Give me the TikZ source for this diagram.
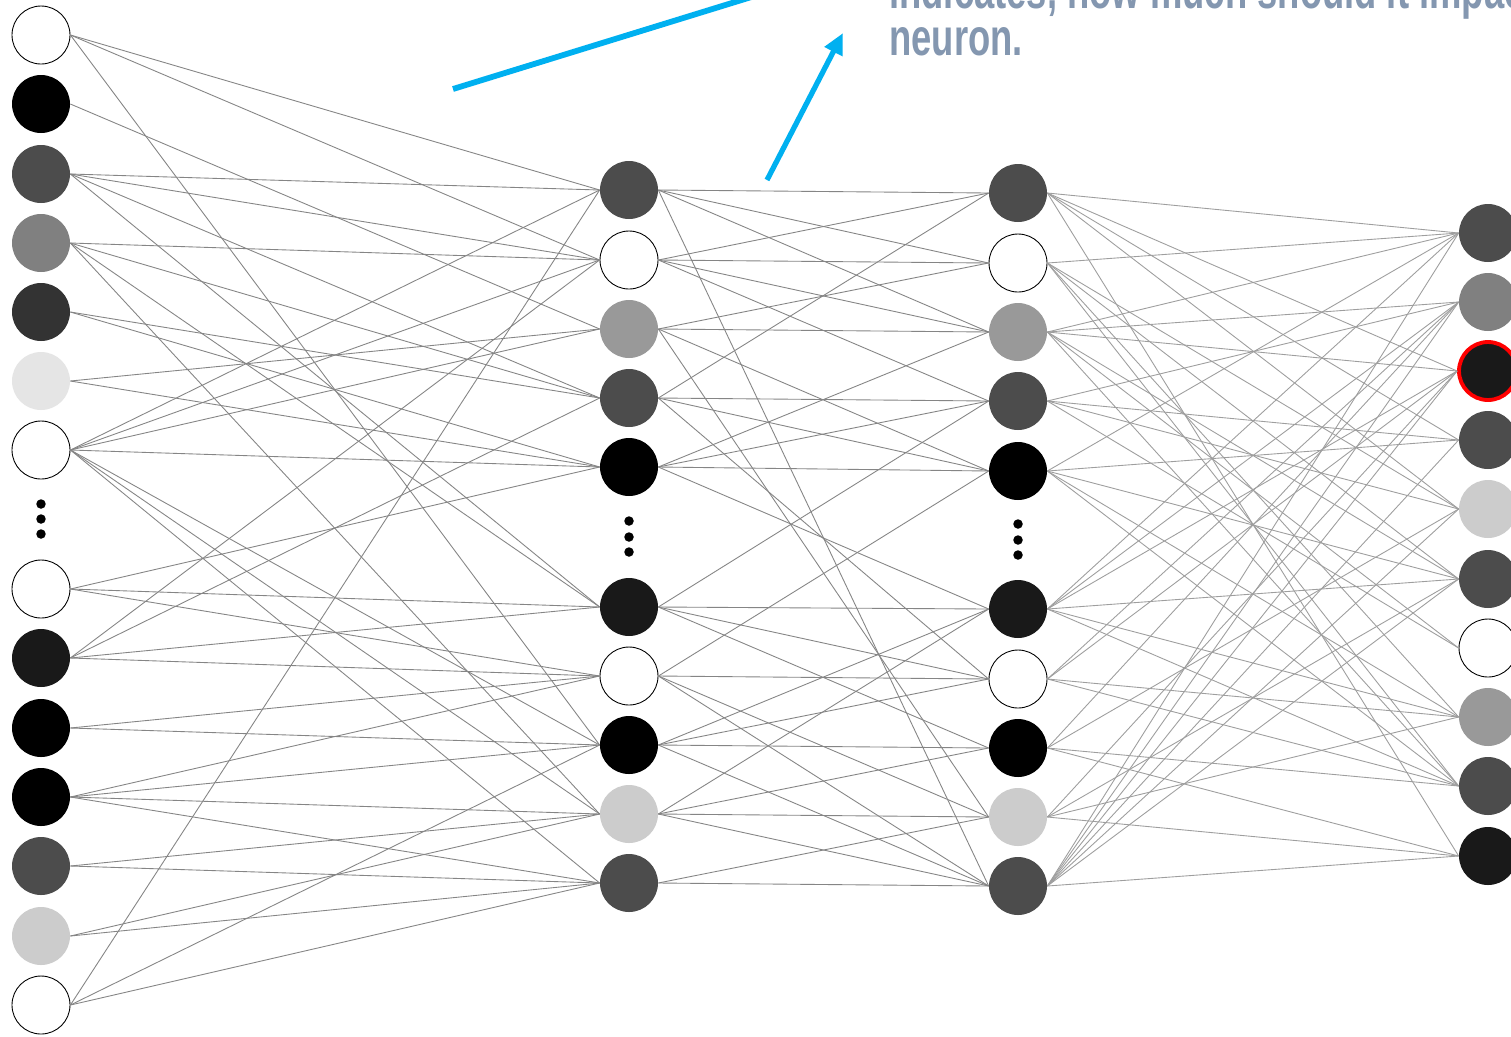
\documentclass[tikz,border=0pt]{standalone}
\usepackage{fontspec}
\usetikzlibrary{arrows.meta}
\newfontfamily\notefont[FakeStretch=0.7]{Liberation Sans}
\definecolor{notegray}{RGB}{132,151,176}
\definecolor{callout}{RGB}{0,176,240}
\tikzset{
  neuron/.style={circle, minimum size=1.16cm, inner sep=0pt},
  blank/.style={neuron, draw=black, line width=0.5pt, fill=white},
  dot/.style={circle, fill=black, minimum size=0.19cm, inner sep=0pt},
  wire/.style={draw=black!48, line width=0.5pt},
  litewire/.style={draw=black!38, line width=0.5pt},
  pointer/.style={draw=callout, line width=3pt},
  note/.style={text=notegray, inner sep=0pt, anchor=base west, font=\notefont\bfseries\fontsize{29.6pt}{30pt}\selectfont}
}
\begin{document}
\begin{tikzpicture}[x=0.02cm, y=-0.02cm]
    \useasboundingbox (0,0) rectangle (1511,1036);
    \fill[white] (0,0) rectangle (1511,1036);
    \clip (0,0) rectangle (1511,1036);

    % Input layer
    \node[blank] (in1) at (41,35) {};
    \node[neuron, fill=black] (in2) at (41,104) {};
    \node[neuron, fill=black!70] (in3) at (41,174) {};
    \node[neuron, fill=black!50] (in4) at (41,243) {};
    \node[neuron, fill=black!80] (in5) at (41,312) {};
    \node[neuron, fill=black!10] (in6) at (41,381) {};
    \node[blank] (in7) at (41,450) {};
    \node[dot] (ind1) at (41,504) {};
    \node[dot] (ind2) at (41,519) {};
    \node[dot] (ind3) at (41,534) {};
    \node[blank] (in8) at (41,589) {};
    \node[neuron, fill=black!90] (in9) at (41,658) {};
    \node[neuron, fill=black] (in10) at (41,728) {};
    \node[neuron, fill=black] (in11) at (41,797) {};
    \node[neuron, fill=black!70] (in12) at (41,866) {};
    \node[neuron, fill=black!20] (in13) at (41,936) {};
    \node[blank] (in14) at (41,1005) {};

    % First hidden layer
    \node[neuron, fill=black!70] (ha1) at (629,190) {};
    \node[blank] (ha2) at (629,260) {};
    \node[neuron, fill=black!40] (ha3) at (629,329) {};
    \node[neuron, fill=black!70] (ha4) at (629,398) {};
    \node[neuron, fill=black] (ha5) at (629,467) {};
    \node[dot] (had1) at (629,521) {};
    \node[dot] (had2) at (629,537) {};
    \node[dot] (had3) at (629,552) {};
    \node[neuron, fill=black!90] (ha6) at (629,607) {};
    \node[blank] (ha7) at (629,676) {};
    \node[neuron, fill=black] (ha8) at (629,745) {};
    \node[neuron, fill=black!20] (ha9) at (629,814) {};
    \node[neuron, fill=black!70] (ha10) at (629,883) {};

    % Second hidden layer
    \node[neuron, fill=black!70] (hb1) at (1018,193) {};
    \node[blank] (hb2) at (1018,263) {};
    \node[neuron, fill=black!40] (hb3) at (1018,332) {};
    \node[neuron, fill=black!70] (hb4) at (1018,401) {};
    \node[neuron, fill=black] (hb5) at (1018,471) {};
    \node[dot] (hbd1) at (1018,524) {};
    \node[dot] (hbd2) at (1018,540) {};
    \node[dot] (hbd3) at (1018,555) {};
    \node[neuron, fill=black!90] (hb6) at (1018,609) {};
    \node[blank] (hb7) at (1018,679) {};
    \node[neuron, fill=black] (hb8) at (1018,748) {};
    \node[neuron, fill=black!20] (hb9) at (1018,817) {};
    \node[neuron, fill=black!70] (hb10) at (1018,886) {};

    % Output layer
    \node[neuron, fill=black!70] (out1) at (1488,233) {};
    \node[neuron, fill=black!50] (out2) at (1488,302) {};
    \node[neuron, fill=black!90, draw=red, line width=2.2pt] (out3) at (1488,371) {};
    \node[neuron, fill=black!70] (out4) at (1488,440) {};
    \node[neuron, fill=black!20] (out5) at (1488,509) {};
    \node[neuron, fill=black!70] (out6) at (1488,579) {};
    \node[blank] (out7) at (1488,648) {};
    \node[neuron, fill=black!40] (out8) at (1488,717) {};
    \node[neuron, fill=black!70] (out9) at (1488,786) {};
    \node[neuron, fill=black!90] (out10) at (1488,856) {};

    % Input to first hidden
    \foreach \t in {1,2,8} \draw[wire] (in1.east) -- (ha\t.west);
    \foreach \t in {3} \draw[wire] (in2.east) -- (ha\t.west);
    \foreach \t in {1,2,4,6} \draw[wire] (in3.east) -- (ha\t.west);
    \foreach \t in {2,4,6,9} \draw[wire] (in4.east) -- (ha\t.west);
    \foreach \t in {4,5} \draw[wire] (in5.east) -- (ha\t.west);
    \foreach \t in {3,5} \draw[wire] (in6.east) -- (ha\t.west);
    \foreach \t in {1,2,3,5,8,9,10} \draw[wire] (in7.east) -- (ha\t.west);
    \foreach \t in {5,6,7} \draw[wire] (in8.east) -- (ha\t.west);
    \foreach \t in {2,4,6,7} \draw[wire] (in9.east) -- (ha\t.west);
    \foreach \t in {7,8} \draw[wire] (in10.east) -- (ha\t.west);
    \foreach \t in {7,8,9,10} \draw[wire] (in11.east) -- (ha\t.west);
    \foreach \t in {9,10} \draw[wire] (in12.east) -- (ha\t.west);
    \foreach \t in {9,10} \draw[wire] (in13.east) -- (ha\t.west);
    \foreach \t in {1,8,10} \draw[wire] (in14.east) -- (ha\t.west);

    % First hidden to second hidden
    \foreach \t in {1,2,3,10} \draw[wire] (ha1.east) -- (hb\t.west);
    \foreach \t in {1,2,3,4} \draw[wire] (ha2.east) -- (hb\t.west);
    \foreach \t in {2,3,5,9} \draw[wire] (ha3.east) -- (hb\t.west);
    \foreach \t in {1,4,5,7} \draw[wire] (ha4.east) -- (hb\t.west);
    \foreach \t in {3,4,5,6} \draw[wire] (ha5.east) -- (hb\t.west);
    \foreach \t in {4,6,7,8} \draw[wire] (ha6.east) -- (hb\t.west);
    \foreach \t in {5,7,9,10} \draw[wire] (ha7.east) -- (hb\t.west);
    \foreach \t in {6,7,8,10} \draw[wire] (ha8.east) -- (hb\t.west);
    \foreach \t in {6,8,9,10} \draw[wire] (ha9.east) -- (hb\t.west);
    \foreach \t in {9,10} \draw[wire] (ha10.east) -- (hb\t.west);

    % Second hidden to output
    \foreach \t in {1,3,4,5,10} \draw[litewire] (hb1.east) -- (out\t.west);
    \foreach \t in {1,5,6,8,9} \draw[litewire] (hb2.east) -- (out\t.west);
    \foreach \t in {1,2,3,6,7,9} \draw[litewire] (hb3.east) -- (out\t.west);
    \foreach \t in {2,4,5,7} \draw[litewire] (hb4.east) -- (out\t.west);
    \foreach \t in {1,4,6,8,9} \draw[litewire] (hb5.east) -- (out\t.west);
    \foreach \t in {1,2,3,6,8,9} \draw[litewire] (hb6.east) -- (out\t.west);
    \foreach \t in {2,3,8,9} \draw[litewire] (hb7.east) -- (out\t.west);
    \foreach \t in {2,5,9,10} \draw[litewire] (hb8.east) -- (out\t.west);
    \foreach \t in {3,6,8,10} \draw[litewire] (hb9.east) -- (out\t.west);
    \foreach \t in {1,2,3,4,5,6,10} \draw[litewire] (hb10.east) -- (out\t.west);

    % Callout
    \node[note] (note1) at (889,8) {indicates, how much should it impact the};
    \node[note] (note2) at (889,55) {neuron.};
    \coordinate (lineS) at (453,89);
    \coordinate (lineE) at (800,-18);
    \coordinate (arrS) at (767,180);
    \coordinate (arrE) at (843,33);
    \draw[pointer, line width=3.3pt] (lineS) -- (lineE);
    \draw[pointer, -{Triangle[length=0.42cm, width=0.38cm]}] (arrS) -- (arrE);
\end{tikzpicture}
\end{document}
